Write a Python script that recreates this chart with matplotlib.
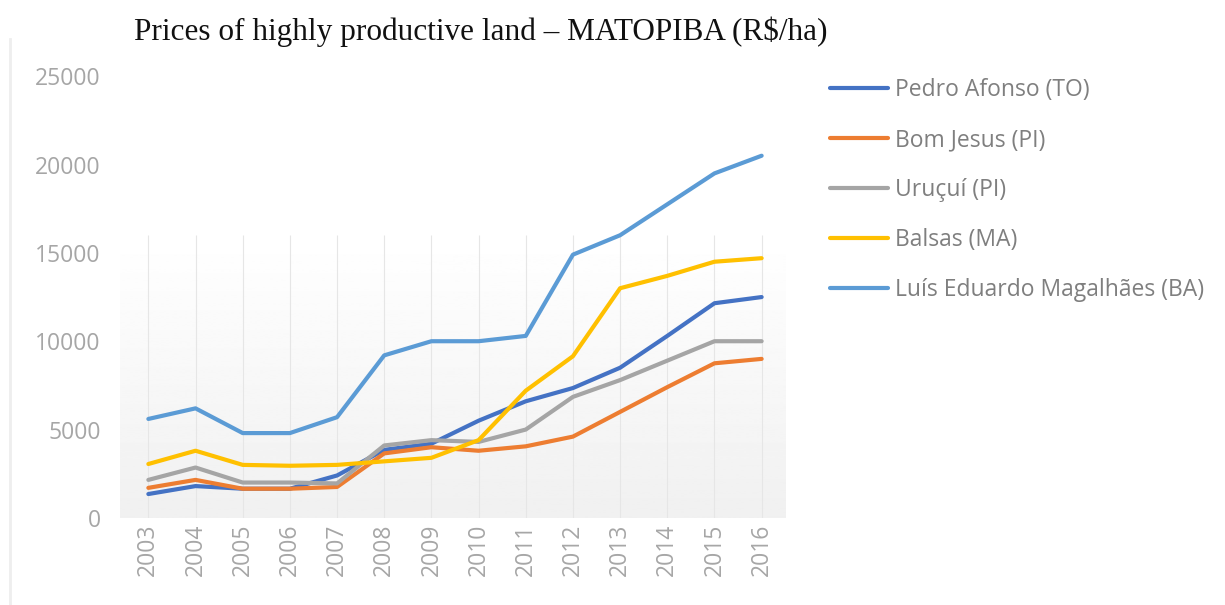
import numpy as np
import matplotlib.pyplot as plt

# data (R$/ha)
years = list(range(2003, 2017))
pedro_afonso = [1350, 1800, 1650, 1650, 2400, 3850, 4200, 5500, 6600, 7350, 8500, 10300, 12150, 12500]
bom_jesus = [1700, 2150, 1650, 1650, 1750, 3650, 4000, 3800, 4050, 4600, 6000, 7400, 8750, 9000]
urucui = [2150, 2850, 2000, 2000, 1950, 4100, 4400, 4300, 5000, 6850, 7800, 8900, 10000, 10000]
balsas = [3050, 3800, 3000, 2950, 3000, 3200, 3400, 4400, 7200, 9150, 13000, 13700, 14500, 14700]
lem = [5600, 6200, 4800, 4800, 5700, 9200, 10000, 10000, 10300, 14900, 16000, 17750, 19500, 20500]

series = [
    ("Pedro Afonso (TO)", pedro_afonso, "#4472C4"),
    ("Bom Jesus (PI)", bom_jesus, "#ED7D31"),
    ("Uruçuí (PI)", urucui, "#A5A5A5"),
    ("Balsas (MA)", balsas, "#FFC000"),
    ("Luís Eduardo Magalhães (BA)", lem, "#5B9BD5"),
]

fig = plt.figure(figsize=(12.25, 6.05), dpi=100)
ax = fig.add_axes([0.098, 0.144, 0.543, 0.730])

x0, x1 = 2002.4, 2016.5
ax.set_xlim(x0, x1)
ax.set_ylim(0, 25000)

# faint grey gradient behind the lower part of the plot
grad = np.linspace(0.94, 1.0, 256).reshape(-1, 1)
ax.imshow(grad, extent=[x0, x1, -400, 16000], origin="lower", cmap="gray",
          vmin=0, vmax=1, aspect="auto", zorder=0)
ax.vlines(years, 0, 16000, color="#e6e6e6", lw=0.8, zorder=1)

for name, vals, col in series:
    ax.plot(years, vals, color=col, lw=3, label=name, zorder=3, solid_capstyle="round")

for s in ax.spines.values():
    s.set_visible(False)
ax.tick_params(length=0, colors="#a6a6a6", labelsize=16.5)
ax.xaxis.set_tick_params(pad=4)
ax.yaxis.set_tick_params(pad=14)
ax.set_xticks(years)
ax.set_xticklabels([str(y) for y in years], rotation=90, family="Open Sans")
ax.set_yticks(range(0, 25001, 5000))
ax.set_yticklabels([str(v) for v in range(0, 25001, 5000)], family="Open Sans")

# faint line at the left edge of the picture
fig.add_artist(plt.Line2D([0.008, 0.008], [0.0, 0.935], color="#eeeeee", lw=2))

fig.text(0.109, 0.948, "Prices of highly productive land – MATOPIBA (R$/ha)",
         family="Liberation Serif", fontsize=22.5, color="#111111", va="center")

leg = ax.legend(loc="upper left", bbox_to_anchor=(1.068, 0.995), frameon=False,
                prop={"family": "Open Sans", "size": 16.5}, handlelength=2.5,
                handletextpad=0.3, labelspacing=1.13, borderpad=0, borderaxespad=0)
for t in leg.get_texts():
    t.set_color("#7f7f7f")

fig.savefig("out.png", dpi=100)
